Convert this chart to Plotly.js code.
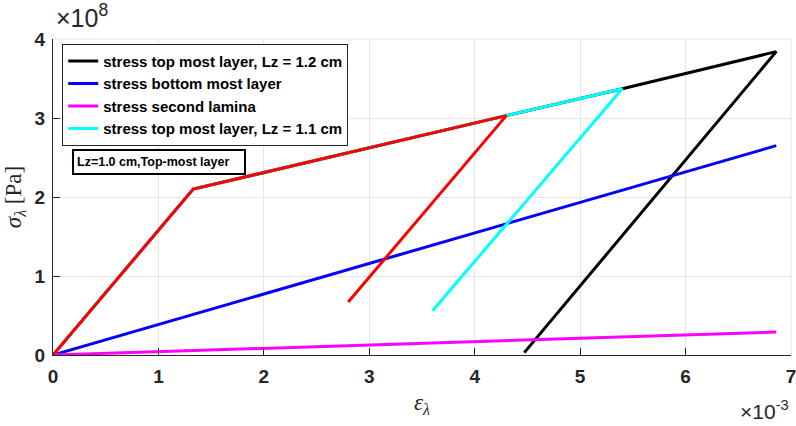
<!DOCTYPE html>
<html>
<head>
<meta charset="utf-8">
<script src="https://cdn.plot.ly/plotly-3.0.1.min.js"></script>
<style>html,body{margin:0;padding:0;background:#fff;}#chart{width:796px;height:426px;}</style>
</head>
<body>
<div id="chart"></div>
<script>
// strain values in units of 1e-3, stress in units of 1e8 Pa
const strainTop12 = [0, 1.33, 4.30, 5.40, 6.86, 4.47];
const stressTop12 = [0, 2.10, 3.03, 3.37, 3.84, 0.03];
const strainBottom = [0, 6.86];
const stressBottom = [0, 2.65];
const strainSecond = [0, 6.86];
const stressSecond = [0, 0.29];
const strainTop11 = [0, 1.33, 4.30, 5.40, 3.60];
const stressTop11 = [0, 2.10, 3.03, 3.37, 0.56];
const strainTop10 = [0, 1.33, 4.30, 2.80];
const stressTop10 = [0, 2.10, 3.03, 0.67];
const xTicks = [0, 1, 2, 3, 4, 5, 6, 7];
const yTicks = [0, 1, 2, 3, 4];

const traces = [
  {x: strainTop12, y: stressTop12, name: 'stress top most layer, Lz = 1.2 cm', mode: 'lines', line: {color: '#000000', width: 3}},
  {x: strainBottom, y: stressBottom, name: 'stress bottom most layer', mode: 'lines', line: {color: '#0000ff', width: 3}},
  {x: strainSecond, y: stressSecond, name: 'stress second lamina', mode: 'lines', line: {color: '#ff00ff', width: 3}},
  {x: strainTop11, y: stressTop11, name: 'stress top most layer, Lz = 1.1 cm', mode: 'lines', line: {color: '#00ffff', width: 3}},
  {x: strainTop10, y: stressTop10, name: 'Lz=1.0 cm', mode: 'lines', showlegend: false, line: {color: '#ff0000', width: 3}}
];

const axisCommon = {
  showgrid: true, gridcolor: '#e6e6e6', gridwidth: 1,
  zeroline: false, showline: true, linecolor: '#262626', linewidth: 1,
  ticks: 'inside', ticklen: 7, tickcolor: '#262626',
  tickfont: {family: 'Liberation Sans, Arial, sans-serif', size: 19, color: '#262626', weight: 'bold'},
  tickmode: 'array', ticklabeloverflow: 'allow'
};

const layout = {
  width: 796, height: 426,
  margin: {l: 53, r: 5, t: 39, b: 71},
  paper_bgcolor: '#ffffff', plot_bgcolor: '#ffffff',
  showlegend: true,
  xaxis: Object.assign({}, axisCommon, {
    range: [0, 7], tickvals: xTicks, ticktext: xTicks.map(String),
    ticklabelstandoff: 4,
    title: {text: '<i>ε</i><sub><i>λ</i></sub>', font: {family: 'Liberation Serif, Times New Roman, serif', size: 23, color: '#262626'}, standoff: 8}
  }),
  yaxis: Object.assign({}, axisCommon, {
    range: [0, 4], tickvals: yTicks, ticktext: yTicks.map(String),
    ticklabelstandoff: 3,
    title: {text: '<i>σ</i><sub><i>λ</i></sub> [Pa]', font: {family: 'Liberation Serif, Times New Roman, serif', size: 23, color: '#262626'}, standoff: 6}
  }),
  legend: {
    x: 0.0125, y: 0.985, xanchor: 'left', yanchor: 'top',
    bgcolor: '#ffffff', bordercolor: '#262626', borderwidth: 1,
    font: {family: 'Liberation Sans, Arial, sans-serif', size: 15, color: '#000000', weight: 'bold'},
    itemwidth: 30, tracegroupgap: 0
  },
  shapes: [
    {type: 'line', xref: 'paper', yref: 'paper', x0: 0, x1: 1, y0: 1, y1: 1, line: {color: '#e6e6e6', width: 1}},
    {type: 'line', xref: 'paper', yref: 'paper', x0: 1, x1: 1, y0: 0, y1: 1, line: {color: '#e6e6e6', width: 1}}
  ],
  annotations: [
    {xref: 'paper', yref: 'paper', x: 0.026, y: 0.612, xanchor: 'left', yanchor: 'middle',
     text: 'Lz=1.0 cm,Top-most layer', showarrow: false,
     font: {family: 'Liberation Sans, Arial, sans-serif', size: 12.5, color: '#000000', weight: 'bold'},
     bgcolor: '#ffffff', bordercolor: '#000000', borderwidth: 2, borderpad: 3, width: 164, height: 16, align: 'left'},
    {xref: 'paper', yref: 'paper', x: 0.002, y: 1.0, xanchor: 'left', yanchor: 'bottom', yshift: 5,
     text: '×10<sup>8</sup>', showarrow: false,
     font: {family: 'Liberation Sans, Arial, sans-serif', size: 25, color: '#262626'}},
    {xref: 'paper', yref: 'paper', x: 1.0, y: 0, xanchor: 'right', yanchor: 'top', yshift: -40,
     text: '×10<sup>-3</sup>', showarrow: false,
     font: {family: 'Liberation Sans, Arial, sans-serif', size: 21, color: '#262626'}}
  ]
};

Plotly.newPlot('chart', traces, layout, {displayModeBar: false, staticPlot: true});
</script>
</body>
</html>
